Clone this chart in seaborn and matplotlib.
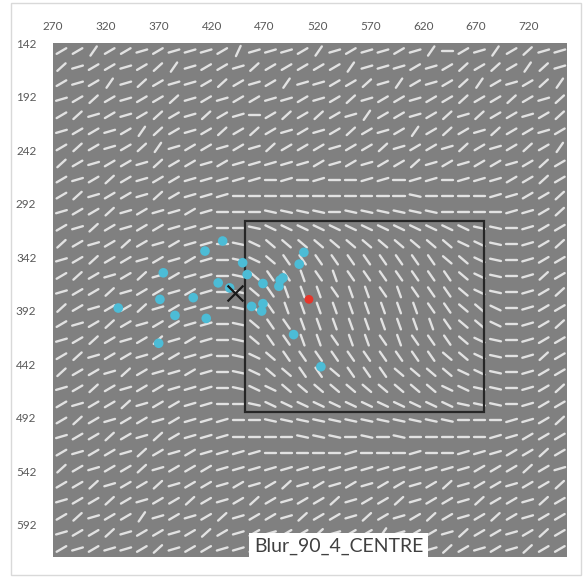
import numpy as np
import seaborn as sns
import matplotlib
matplotlib.use("Agg")
import matplotlib.pyplot as plt
from matplotlib.collections import LineCollection
from matplotlib.patches import Rectangle

# ---- data -------------------------------------------------------------
x_ticks = [270, 320, 370, 420, 470, 520, 570, 620, 670, 720]
y_ticks = [142, 192, 242, 292, 342, 392, 442, 492, 542, 592]

# orientation of each background element, one code per grid cell
angle_codes = {"A": -70, "B": -55, "C": -40, "D": -25, "E": -12, "F": 0,
               "G": 16, "H": 30, "I": 42, "J": 55, "K": 65}
orientation_rows = [
    "HHJHHGHG GGHKGGGH JGHGGHGJ FHGJHIGG",
    "IGHHGHIJ GHHGIHHH HHJGGGHG HIHIHJIG",
    "HGHJGIHG GHIHGHJG GHHIGJHG HIJHGHIJ",
    "GHIHGHHI GHGHHGGH GHIGHHGH HIHHIHGI",
    "HIGHGHIH GIHGFHIH IHGJHHGH IGIHHGHI",
    "GHHGHJIH GHIHIHGH GHIHGHJH IHGIHHGH",
    "HIHGHIJG HHGHGIHH HGHHIGHH GIHGHIHJ",
    "IHGHHGIH HGHGGGGG HGHGHHIG HGHHGHIH",
    "HGHIHGHH GGGGGFGF GFFGGFGG FGGGHHIH",
    "HIGHHGIH GGGFFFFF FFFFFFEF FFFGGHHI",
    "GHHIGHGG HGFFFEEE EFEEEEEE FFFFGGHI",
    "HGIHGHHG GGFFEDDD DDDDDDDD DDEEFGHH",
    "IHGHIHGH GGFEDCCC CCCCCCCC CDDEFGHI",
    "GHIHHGHG HGFEDCBB BBBBBBBB CCDEFGHH",
    "HIHGHIGH GGFECBBA BABBBBBB BCDEFGIH",
    "GHHIGHHG HGFECBAA ABAABABB BCDEFGHI",
    "IHGHHIGH GGFECBAA AAAAAAAB BCCDFGHH",
    "HGHIHGHH GGFECBBA AAAAAAAA BCCDFGHI",
    "GHIHGHIG HGFECBBA ABAABABB BCDEFGHH",
    "HIGHHGHH GGFEDCBB BBBBBBBB CCDEFGIH",
    "IHHGIHGG HGFEDCCB BCBBBCCC CDDEFGHH",
    "GHIHGHHG GGFEDDCC CCCCCCCC DDEEFGHI",
    "HGHHIGHH GGFFEDDD DDDDDDDD DEEEFGHH",
    "HIHGHHGH GGGFFEEE EEEEEEEE EFFFGGHI",
    "GHHIHGIH GGGFFFFE EEFEFEFF FFFGGHHH",
    "HGHHGIHG HGGGGFFF FFGFFFGF FGGGHHIH",
    "IHGHHIGH HHGGGGGG GGGGGGGG GGHHHIHG",
    "HHIGHHIG HHGHGHIG HGHGHHGH IGHHGHHI",
    "GHHIHGHH IHGHIHGH HIGHHIGH HGIHHGIH",
    "HIGHHJGH GHIGHHGI HHGIHGHI HGHIHGHH",
    "GHHIGHHG HIHGHGHH IGHHJGHH GIHHGHIH",
    "HGHGGHIG HHGGHIHG HGHIGHHG IHGHGIHH",
]

# gaze samples, target and centroid
fix_x = [430.4, 413.7, 374.3, 449.3, 453.6, 426.2, 437.0, 468.5, 487.4,
         484.8, 483.6, 507.2, 502.8, 371.1, 402.6, 331.7, 385.3, 414.9,
         369.9, 457.8, 468.5, 467.3, 497.5, 523.3]
fix_y = [326.9, 336.3, 356.6, 347.2, 358.2, 366.0, 370.7, 366.6, 361.3,
         363.5, 369.2, 337.5, 348.5, 381.4, 379.8, 389.5, 396.4, 399.2,
         422.4, 388.0, 385.4, 392.3, 414.3, 444.3]
target_x, target_y = [512.0], [381.4]
centroid_x, centroid_y = [442.0], [375.1]

roi_left, roi_top, roi_right, roi_bottom = 451.5, 308.0, 677.5, 487.0
label_text = "Blur_90_4_CENTRE"

# ---- figure -----------------------------------------------------------
sns.set_theme(style="white")
plt.rcParams["font.family"] = ["Lato", "DejaVu Sans"]

fig = plt.figure(figsize=(5.87, 5.78), dpi=100)
fig.patch.set_facecolor("white")
fig.add_artist(Rectangle((11 / 587, 3 / 578), 570 / 587, 572 / 578,
                         transform=fig.transFigure, fill=False,
                         edgecolor="#d9d9d9", linewidth=1.0))

ax = fig.add_axes([53 / 587, 1 - 557 / 578, 514 / 587, 514 / 578])
ax.set_facecolor("#808080")
ax.set_xlim(270, 756)
ax.set_ylim(622, 142)

# oriented line elements on a regular grid
x0, dx, y0, dy, seg_len = 278.0, 15.2, 149.5, 15.0, 10.5
segments = []
for j, row in enumerate(orientation_rows):
    for i, code in enumerate(row.replace(" ", "")):
        a = np.deg2rad(angle_codes[code])
        cx, cy = x0 + i * dx, y0 + j * dy
        hx, hy = 0.5 * seg_len * np.cos(a), 0.5 * seg_len * np.sin(a)
        segments.append([(cx - hx, cy + hy), (cx + hx, cy - hy)])
ax.add_collection(LineCollection(segments, colors="#e2e2e2",
                                 linewidths=1.7, capstyle="round", zorder=1))

ax.add_patch(Rectangle((roi_left, roi_top), roi_right - roi_left,
                       roi_bottom - roi_top, fill=False,
                       edgecolor="#262626", linewidth=1.6, zorder=2))

sns.scatterplot(x=fix_x, y=fix_y, color="#4cbcd6", s=48, edgecolor="none",
                ax=ax, zorder=3)
sns.scatterplot(x=target_x, y=target_y, color="#e8352a", s=40,
                edgecolor="none", ax=ax, zorder=4)
sns.scatterplot(x=centroid_x, y=centroid_y, color="#1a1a1a", marker="x",
                s=130, linewidth=1.6, ax=ax, zorder=5)

ax.xaxis.tick_top()
ax.set_xticks(x_ticks)
ax.set_yticks(y_ticks)
ax.set_xticklabels([str(v) for v in x_ticks])
ax.set_yticklabels([str(v) for v in y_ticks])
ax.tick_params(length=0, labelsize=8.5, labelcolor="#595959", pad=8)
ax.tick_params(axis="y", pad=12)
for s in ax.spines.values():
    s.set_visible(False)
ax.set_xlabel("")
ax.set_ylabel("")

fig.text(338.5 / 587, 1 - 546 / 578, label_text, ha="center", va="center",
         fontsize=14, color="#404040",
         bbox=dict(boxstyle="square,pad=0.25", facecolor="white",
                   edgecolor="none"))

fig.savefig("out.png", dpi=100)
